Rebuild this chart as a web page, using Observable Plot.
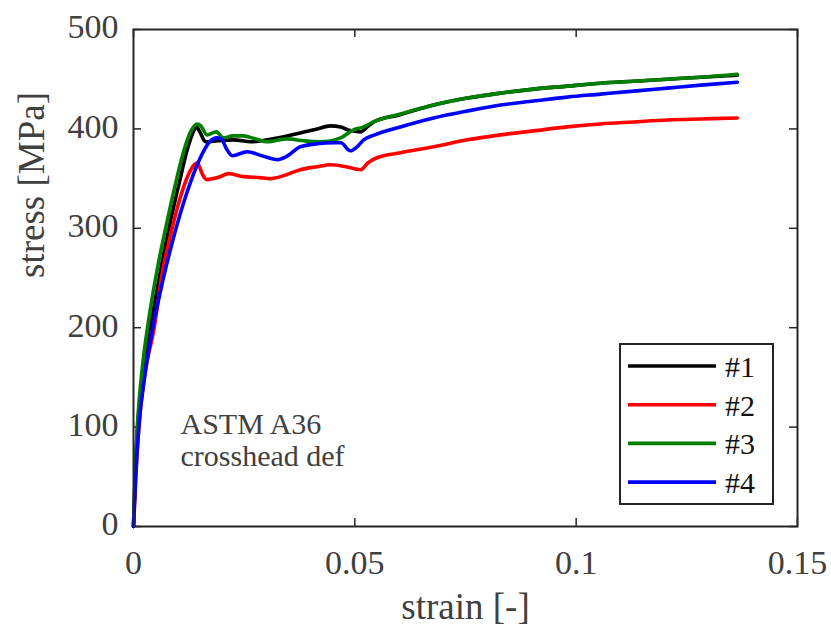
<!DOCTYPE html>
<html>
<head>
<meta charset="utf-8">
<script src="https://cdn.jsdelivr.net/npm/d3@7"></script>
<script src="https://cdn.jsdelivr.net/npm/@observablehq/plot@0.6"></script>
<style>
  body { margin: 0; background: white; }
  #wrap { position: relative; width: 831px; height: 628px; font-family: "Liberation Serif"; }
  #wrap svg, #wrap svg text { font-family: "Liberation Serif" !important; }
  #legend { position: absolute; left: 619px; top: 343px; }
</style>
</head>
<body>
<div id="wrap"></div>
<script>
// ---- data ----
const names = ["#1", "#2", "#3", "#4"];
const colors = ["#000000", "#ff0000", "#008000", "#0000ff"];

const strain1 = [0, 0.0004, 0.001, 0.0022, 0.004, 0.006, 0.008, 0.0103, 0.0122, 0.0135, 0.0142, 0.0152, 0.0163, 0.019, 0.0226, 0.0265, 0.0302, 0.034, 0.0377, 0.0415, 0.0445, 0.0468, 0.0485, 0.0513, 0.0528, 0.0543, 0.06, 0.0678, 0.0754, 0.0829, 0.0904, 0.098, 0.1055, 0.113, 0.1206, 0.1282, 0.1364];
const stress1 = [0, 55, 105, 155, 205, 255, 300, 345, 380, 397, 402, 395, 387, 388, 389, 387, 389, 392, 396, 400, 403, 402, 399, 397, 402, 407, 414, 424, 431, 436, 440, 443, 446, 448, 450, 452, 454];

const strain2 = [0, 0.0005, 0.0012, 0.0025, 0.0046, 0.0065, 0.0082, 0.0105, 0.0125, 0.0137, 0.0144, 0.0155, 0.0165, 0.019, 0.0215, 0.0248, 0.0285, 0.0309, 0.034, 0.0377, 0.0415, 0.0445, 0.048, 0.0513, 0.053, 0.055, 0.0603, 0.0678, 0.0754, 0.0829, 0.0904, 0.098, 0.1055, 0.113, 0.1206, 0.1282, 0.1364];
const stress2 = [0, 50, 100, 152, 198, 255, 290, 330, 355, 364, 366, 355, 349, 351, 355, 352, 351, 350, 353, 359, 362, 364, 362, 359, 366, 371, 376, 382, 389, 394, 398, 402, 405, 407, 409, 410, 411];

const strain3 = [0, 0.0004, 0.001, 0.002, 0.0035, 0.0055, 0.0075, 0.0095, 0.0115, 0.013, 0.0144, 0.0152, 0.0166, 0.0187, 0.0203, 0.0225, 0.0248, 0.0275, 0.0302, 0.0347, 0.0385, 0.0422, 0.0468, 0.0497, 0.052, 0.0542, 0.0603, 0.0678, 0.0754, 0.0829, 0.0904, 0.098, 0.1055, 0.113, 0.1206, 0.1282, 0.1364];
const stress3 = [0, 60, 110, 160, 210, 262, 305, 345, 380, 398, 405, 403, 394, 397, 391, 393, 393, 390, 387, 390, 388, 387, 391, 399, 402, 407, 415, 424, 431, 436, 440, 443, 446, 448, 450, 452, 455];

const strain4 = [0, 0.0005, 0.0012, 0.0025, 0.0042, 0.0065, 0.009, 0.012, 0.015, 0.0172, 0.0188, 0.0198, 0.021, 0.0223, 0.0257, 0.029, 0.0325, 0.0345, 0.0377, 0.0415, 0.0453, 0.0468, 0.049, 0.0505, 0.052, 0.0545, 0.0603, 0.0678, 0.0754, 0.0829, 0.0904, 0.098, 0.1055, 0.113, 0.1206, 0.1282, 0.1364];
const stress4 = [0, 50, 100, 150, 196, 245, 290, 335, 370, 387, 391, 390, 380, 373, 377, 373, 369, 372, 382, 385, 386, 386, 378, 382, 389, 394, 402, 411, 418, 424, 428, 432, 435, 438, 441, 444, 447];

const xTicks = [0, 0.05, 0.1, 0.15];
const yTicks = [0, 100, 200, 300, 400, 500];
const xLabel = "strain [-]";
const yLabel = "stress [MPa]";
const noteLines = ["ASTM A36", "crosshead def"];

// ---- build table ----
const strains = [strain1, strain2, strain3, strain4];
const stresses = [stress1, stress2, stress3, stress4];
const rows = [];
names.forEach((n, i) => strains[i].forEach((s, j) => rows.push({specimen: n, strain: s, stress: stresses[i][j]})));

const W = 831, H = 628, mL = 133, mR = 34, mT = 29, mB = 102;
const FW = W - mL - mR, FH = H - mT - mB;
const axisColor = "#262626";
const textColor = "#404040";
const font = "Liberation Serif";
const tick = 8;

const chart = Plot.plot({
  width: W, height: H,
  marginLeft: mL, marginRight: mR, marginTop: mT, marginBottom: mB,
  style: {fontFamily: font, fontSize: "34px", color: textColor, background: "white", overflow: "visible"},
  x: {domain: [0, 0.15]},
  y: {domain: [0, 500]},
  color: {domain: names, range: colors},
  marks: [
    Plot.axisX(xTicks, {anchor: "bottom", tickSize: 0, tickPadding: 23, tickFormat: d => String(d), label: null, fontFamily: font}),
    Plot.axisY(yTicks, {anchor: "left", tickSize: 0, tickPadding: 15, dy: -2, label: null, fontFamily: font}),
    Plot.tickX(xTicks, {x: d => d, insetTop: FH - tick, stroke: axisColor, strokeWidth: 1.5}),
    Plot.tickX(xTicks, {x: d => d, insetBottom: FH - tick, stroke: axisColor, strokeWidth: 1.5}),
    Plot.tickY(yTicks, {y: d => d, insetRight: FW - tick, stroke: axisColor, strokeWidth: 1.5}),
    Plot.tickY(yTicks, {y: d => d, insetLeft: FW - tick, stroke: axisColor, strokeWidth: 1.5}),
    Plot.line(rows, {x: "strain", y: "stress", z: "specimen", stroke: "specimen", strokeWidth: 3.6, curve: "monotone-x"}),
    Plot.frame({stroke: axisColor, strokeWidth: 2}),
    Plot.text([noteLines[0]], {frameAnchor: "bottom-left", dx: 47, dy: -93, text: d => d, textAnchor: "start", lineAnchor: "bottom", fontSize: 30, fontFamily: font, fill: textColor}),
    Plot.text([noteLines[1]], {frameAnchor: "bottom-left", dx: 47, dy: -61, text: d => d, textAnchor: "start", lineAnchor: "bottom", fontSize: 30, fontFamily: font, fill: textColor}),
    Plot.text([xLabel], {frameAnchor: "bottom", dy: 92, text: d => d, lineAnchor: "bottom", fontSize: 37, fontFamily: font, fill: textColor}),
    Plot.text([yLabel], {frameAnchor: "left", dx: -90, text: d => d, rotate: -90, lineAnchor: "bottom", fontSize: 37, fontFamily: font, fill: textColor})
  ]
});
document.getElementById("wrap").appendChild(chart);

// ---- legend (HTML overlay) ----
const lw = 155, lh = 162, rowGap = 38.7;
const leg = d3.select("#wrap").append("svg").attr("id", "legend")
  .attr("width", lw).attr("height", lh)
  .attr("font-family", font);
leg.append("rect").attr("x", 1).attr("y", 1).attr("width", lw - 2).attr("height", lh - 2)
  .attr("fill", "white").attr("stroke", axisColor).attr("stroke-width", 2);
const items = leg.selectAll("g").data(names).join("g")
  .attr("transform", (d, i) => `translate(0,${23 + i * rowGap})`);
items.append("line").attr("x1", 9).attr("x2", 97).attr("y1", 0).attr("y2", 0)
  .attr("stroke", (d, i) => colors[i]).attr("stroke-width", 3.6);
items.append("text").attr("x", 106).attr("y", 11).attr("font-size", 30).attr("fill", "#111").text(d => d);
</script>
</body>
</html>
